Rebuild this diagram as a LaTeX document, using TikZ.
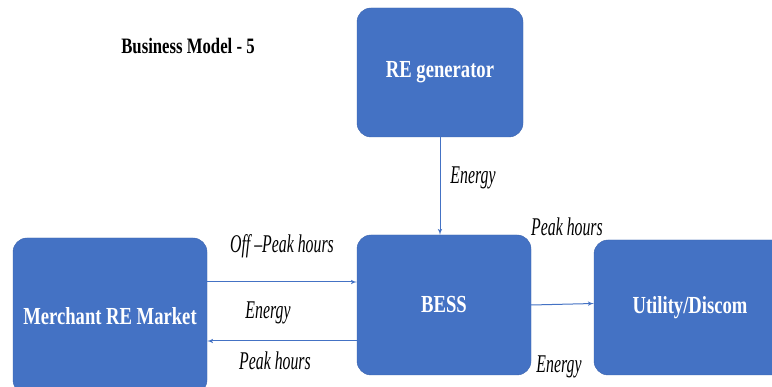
\documentclass[tikz,border=0pt]{standalone}
\usepackage{fontspec}
\setmainfont[FakeStretch=0.62]{Liberation Serif}
\newfontfamily\boxfont[FakeStretch=0.76]{Liberation Serif}
\usepackage{tikz}
\usetikzlibrary{arrows}
\usetikzlibrary{positioning}
\definecolor{mblue}{HTML}{4472C4}
\definecolor{mborder}{HTML}{3A63AE}

\tikzset{
  block/.style={draw=mborder, fill=mblue, rounded corners=14pt, text=white,
    font=\boxfont\bfseries\fontsize{24.5}{28}\selectfont, inner sep=0pt},
  flow/.style={mblue, line width=1pt, -latex'},
  lbl/.style={font=\itshape\fontsize{25.5}{29}\selectfont, inner sep=0pt}
}

\begin{document}
\begin{tikzpicture}[x=1pt, y=-1pt]
      \useasboundingbox [fill=white] (0, 0) rectangle (772, 387);

      \node [block, minimum width=166pt, minimum height=129pt] (gen) at (440, 72.5) {RE generator};
      \node [block, minimum width=174pt, minimum height=140pt] (bess) at (444, 305) {BESS};
      \node [block, minimum width=194pt, minimum height=156pt] (market) at (110, 316) {Merchant RE Market};
      \node [block, minimum width=192pt, minimum height=135pt] (utility) at (690, 307.5) {Utility/Discom};

      \node [font=\boxfont\bfseries\fontsize{22}{26}\selectfont, inner sep=0pt] (title) at (188, 46) {Business Model - 5};

      \draw [flow] (gen.south -| 440, 0) -- (bess.north -| 440, 0);
      \draw [flow] ([yshift=34pt]market.east) -- ([yshift=34pt]market.east -| bess.west);
      \draw [flow] ([yshift=-25pt]market.east -| bess.west) -- ([yshift=-25pt]market.east);
      \draw [flow] (bess.east) -- ([yshift=4pt]utility.west);

      \node [lbl] (e1) at (473, 178) {Energy};
      \node [lbl] (offpeak) at (282, 246) {Off –Peak hours};
      \node [lbl] (e2) at (268, 313) {Energy};
      \node [lbl] (peak1) at (275, 361) {Peak hours};
      \node [lbl] (peak2) at (567, 227) {Peak hours};
      \node [lbl] (e3) at (559, 367) {Energy};
    \end{tikzpicture}
\end{document}
